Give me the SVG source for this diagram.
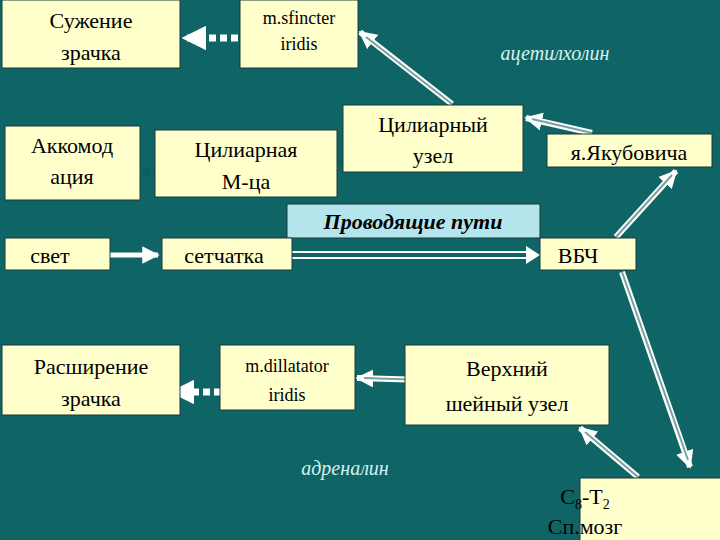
<svg xmlns="http://www.w3.org/2000/svg" width="720" height="540" viewBox="0 0 720 540">
<defs>
<style>
.b{fill:#ffffcc;stroke:#1a3a3a;stroke-width:1}
.t{font-family:"Liberation Serif",serif;font-size:22px;fill:#000;text-anchor:middle}
.s{font-size:18px}
.it{font-family:"Liberation Serif",serif;font-style:italic;font-size:20px;fill:#d8f0f0;text-anchor:middle}
.dw{stroke:#fff;stroke-width:7;stroke-dasharray:7 4;fill:none}
.dt{stroke:#0a6060;stroke-width:7;stroke-dasharray:7 4;fill:none}
.dbl{stroke:#fff;stroke-width:6;fill:none}
.dbi{stroke:#7aa0a0;stroke-width:2;fill:none}
.sw{stroke:#fff;stroke-width:5;fill:none}
</style>
<marker id="aw" viewBox="0 0 10 10" refX="9" refY="5" markerWidth="3.5" markerHeight="3.5" markerUnits="strokeWidth" orient="auto"><path d="M0,0L10,5L0,10z" fill="#fff"/></marker>
<marker id="at" viewBox="0 0 10 10" refX="9" refY="5" markerWidth="3.5" markerHeight="3.5" markerUnits="strokeWidth" orient="auto"><path d="M0,0L10,5L0,10z" fill="#0a6060"/></marker>
<marker id="ad" viewBox="0 0 10 10" refX="9" refY="5" markerWidth="3" markerHeight="3" markerUnits="strokeWidth" orient="auto"><path d="M0,0L10,5L0,10z" fill="#fff"/></marker>
</defs>
<rect width="720" height="540" fill="#0f6565"/>
<g id="connectors">
<line class="dw" x1="238" y1="38" x2="184" y2="38" marker-end="url(#aw)"/>
<line class="dbl" x1="452" y1="104" x2="360" y2="32" marker-end="url(#ad)"/><line class="dbi" x1="452" y1="104" x2="366" y2="37"/>
<line class="dbl" x1="592" y1="133" x2="526" y2="118" marker-end="url(#ad)"/><line class="dbi" x1="592" y1="133" x2="532" y2="119"/>
<line class="dt" x1="367" y1="154" x2="300" y2="176" marker-end="url(#at)"/>
<line class="dt" x1="172" y1="172" x2="112" y2="172" marker-end="url(#at)"/>
<line class="sw" x1="110" y1="255" x2="158" y2="255" marker-end="url(#aw)"/>
<line x1="292" y1="252" x2="530" y2="252" stroke="#fff" stroke-width="2"/><line x1="292" y1="258" x2="530" y2="258" stroke="#fff" stroke-width="2"/>
<path d="M526,246L540,255L526,264z" fill="#fff"/>
<line class="dbl" x1="616" y1="237" x2="676" y2="171" marker-end="url(#ad)"/><line class="dbi" x1="616" y1="237" x2="672" y2="175"/>
<line class="dbl" x1="622" y1="272" x2="690" y2="467" marker-end="url(#ad)"/><line class="dbi" x1="622" y1="272" x2="688" y2="460"/>
<line class="dbl" x1="638" y1="477" x2="580" y2="428" marker-end="url(#ad)"/><line class="dbi" x1="638" y1="477" x2="585" y2="432"/>
<line class="dbl" x1="425" y1="380" x2="357" y2="378" marker-end="url(#ad)"/><line class="dbi" x1="425" y1="380" x2="364" y2="378"/>
<line class="dw" x1="232" y1="392" x2="172" y2="392" marker-end="url(#aw)"/>
</g>
<g id="n1"><rect class="b" x="2" y="0" width="178" height="68"/><text class="t" x="91" y="28">Сужение</text><text class="t" x="91" y="60">зрачка</text></g>
<g id="n2"><rect class="b" x="240" y="0" width="118" height="68"/><text class="t s" x="299" y="24">m.sfincter</text><text class="t s" x="299" y="50">iridis</text></g>
<g id="l1"><text class="it" x="555" y="60">ацетилхолин</text></g>
<g id="n3"><rect class="b" x="5" y="126" width="135" height="74"/><text class="t" x="72" y="153">Аккомод</text><text class="t" x="72" y="184">ация</text></g>
<g id="n4"><rect class="b" x="155" y="130" width="182" height="67"/><text class="t" x="246" y="157">Цилиарная</text><text class="t" x="246" y="189">М-ца</text></g>
<g id="n5"><rect class="b" x="343" y="105" width="180" height="67"/><text class="t" x="433" y="132">Цилиарный</text><text class="t" x="433" y="163">узел</text></g>
<g id="n6"><rect class="b" x="547" y="134" width="165" height="33"/><text class="t" x="629" y="160">я.Якубовича</text></g>
<g id="n7"><rect x="287" y="204" width="253" height="34" fill="#b4e4ec" stroke="#1a3a3a"/><text class="t" x="413" y="229" font-style="italic" font-weight="bold">Проводящие пути</text></g>
<g id="n8"><rect class="b" x="5" y="238" width="105" height="32"/><text class="t" x="50" y="263">свет</text></g>
<g id="n9"><rect class="b" x="162" y="238" width="130" height="32"/><text class="t" x="224" y="263">сетчатка</text></g>
<g id="n10"><rect class="b" x="540" y="238" width="96" height="32"/><text class="t" x="578" y="263">ВБЧ</text></g>
<g id="n11"><rect class="b" x="2" y="345" width="178" height="70"/><text class="t" x="91" y="374">Расширение</text><text class="t" x="91" y="406">зрачка</text></g>
<g id="n12"><rect class="b" x="220" y="345" width="135" height="65"/><text class="t s" x="287" y="372">m.dillatator</text><text class="t s" x="287" y="401">iridis</text></g>
<g id="n13"><rect class="b" x="405" y="345" width="204" height="80"/><text class="t" x="507" y="376">Верхний</text><text class="t" x="507" y="411">шейный узел</text></g>
<g id="l2"><text class="it" x="345" y="475">адреналин</text></g>
<g id="n14"><rect class="b" x="580" y="478" width="142" height="64"/><text class="t" x="585" y="504" text-anchor="start">C<tspan font-size="14" dy="5">8</tspan><tspan dy="-5">-T</tspan><tspan font-size="14" dy="5">2</tspan></text><text class="t" x="585" y="534" text-anchor="start">Сп.мозг</text></g>
</svg>
